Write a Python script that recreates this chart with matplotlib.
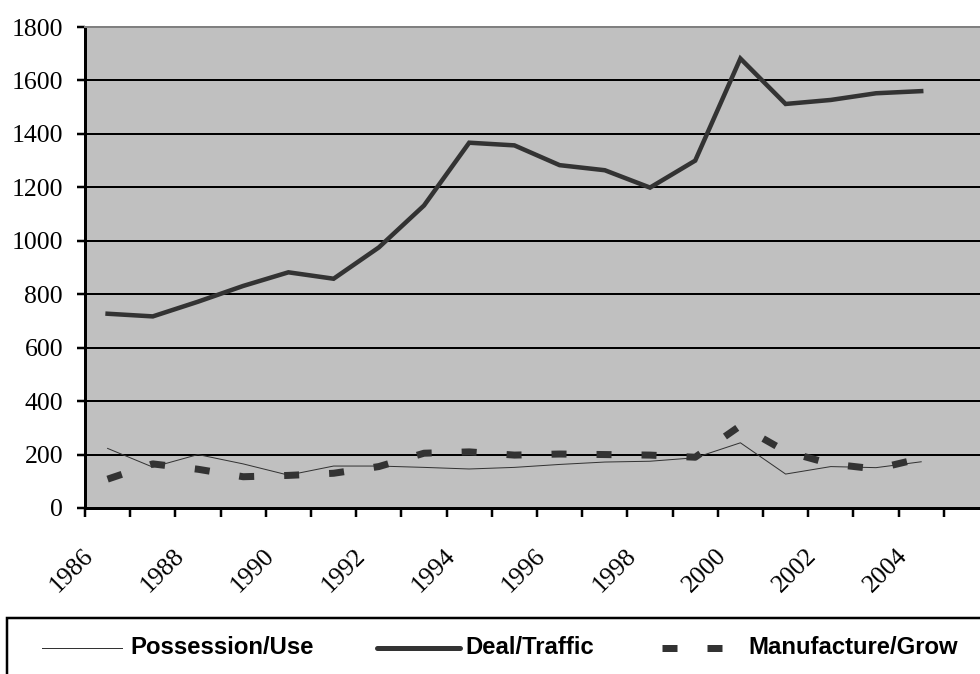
import matplotlib
matplotlib.use("Agg")
import matplotlib.pyplot as plt
from matplotlib.lines import Line2D
from matplotlib.patches import Rectangle

# Annual arrest counts by offence type
years = list(range(1986, 2005))
possession_use = [223, 153, 200, 165, 123, 157, 157, 152, 146, 152, 163, 172, 175, 188, 244, 127, 155, 151, 173]
deal_traffic = [727, 717, 772, 831, 882, 858, 975, 1132, 1367, 1357, 1283, 1264, 1199, 1300, 1682, 1512, 1527, 1552, 1560]
manufacture_grow = [108, 165, 145, 117, 122, 130, 155, 205, 210, 198, 202, 200, 198, 190, 308, 212, 165, 146, 186]

y_ticks = [0, 200, 400, 600, 800, 1000, 1200, 1400, 1600, 1800]
year_labels = [str(y) for y in years[::2]]
legend_labels = ["Possession/Use", "Deal/Traffic", "Manufacture/Grow"]

W, H, DPI = 980, 674, 100
px = 72.0 / DPI  # points per pixel
plt.rcParams["lines.scale_dashes"] = False

fig = plt.figure(figsize=(W / DPI, H / DPI), dpi=DPI)
fig.patch.set_facecolor("white")

# plot area in pixels: left 85, top 27, bottom 508, category width ~45.2
n_cat = 20
left, top, bottom = 85, 27, 508
cat_w = 45.2
right = left + n_cat * cat_w
ax = fig.add_axes([left / W, (H - bottom) / H, (right - left) / W, (bottom - top) / H])
ax.set_facecolor("#C0C0C0")

x = list(range(len(years)))
ink = "#333333"
ax.plot(x, possession_use, color=ink, lw=1 * px, zorder=3)
ax.plot(x, deal_traffic, color=ink, lw=4.5 * px, solid_joinstyle="miter", zorder=3)
ax.plot(x, manufacture_grow, color=ink, lw=7 * px, dashes=(15 * px, 30 * px),
        dash_capstyle="butt", zorder=3)

ax.set_xlim(-0.5, n_cat - 0.5)
ax.set_ylim(0, 1800)
for v in y_ticks[1:-1]:
    ax.axhline(v, color="black", lw=2 * px, zorder=2)

ax.set_yticks(y_ticks)
ax.set_yticklabels([str(v) for v in y_ticks], fontfamily="Liberation Serif", fontsize=18.5)
ax.tick_params(axis="y", length=8 * px, width=2.5 * px, pad=10, colors="black")
ax.set_xticks([i - 0.5 for i in range(n_cat)])
ax.set_xticklabels([])
ax.tick_params(axis="x", length=9 * px, width=2.5 * px, colors="black")

for s in ("left", "bottom"):
    ax.spines[s].set_linewidth(3 * px)
    ax.spines[s].set_color("black")
ax.spines["top"].set_color("#808080")
ax.spines["top"].set_linewidth(2 * px)
ax.spines["right"].set_visible(False)

# rotated year labels, one every second category
for i, lab in zip(range(0, len(years), 2), year_labels):
    xd = i - 0.5 - 13 / cat_w
    xf = (left + (xd + 0.5) * cat_w) / W
    fig.text(xf, 1 - 571 / H, lab, rotation=45, ha="center", va="center",
             fontfamily="Liberation Serif", fontsize=18.5, rotation_mode="anchor")

# legend box along the bottom
fig.add_artist(Rectangle((7 / W, -0.1), 1.2, (H - 618) / H + 0.1, transform=fig.transFigure,
                         fill=False, edgecolor="black", lw=2.5 * px))
ly = 1 - 647.5 / H
fig.add_artist(Line2D([42 / W, 122 / W], [ly, ly], color=ink, lw=1 * px, transform=fig.transFigure))
fig.add_artist(Line2D([377 / W, 460 / W], [ly, ly], color=ink, lw=5 * px,
                      solid_capstyle="round", transform=fig.transFigure))
fig.add_artist(Line2D([662 / W, 723 / W], [ly, ly], color=ink, lw=7 * px,
                      dashes=(15 * px, 30 * px), dash_capstyle="butt", transform=fig.transFigure))
for xt, lab in zip([130, 465, 748], legend_labels):
    fig.text(xt / W, ly, lab, ha="left", va="center", fontfamily="Liberation Sans",
             fontweight="bold", fontsize=17.2)

fig.savefig("out.png", dpi=DPI)
